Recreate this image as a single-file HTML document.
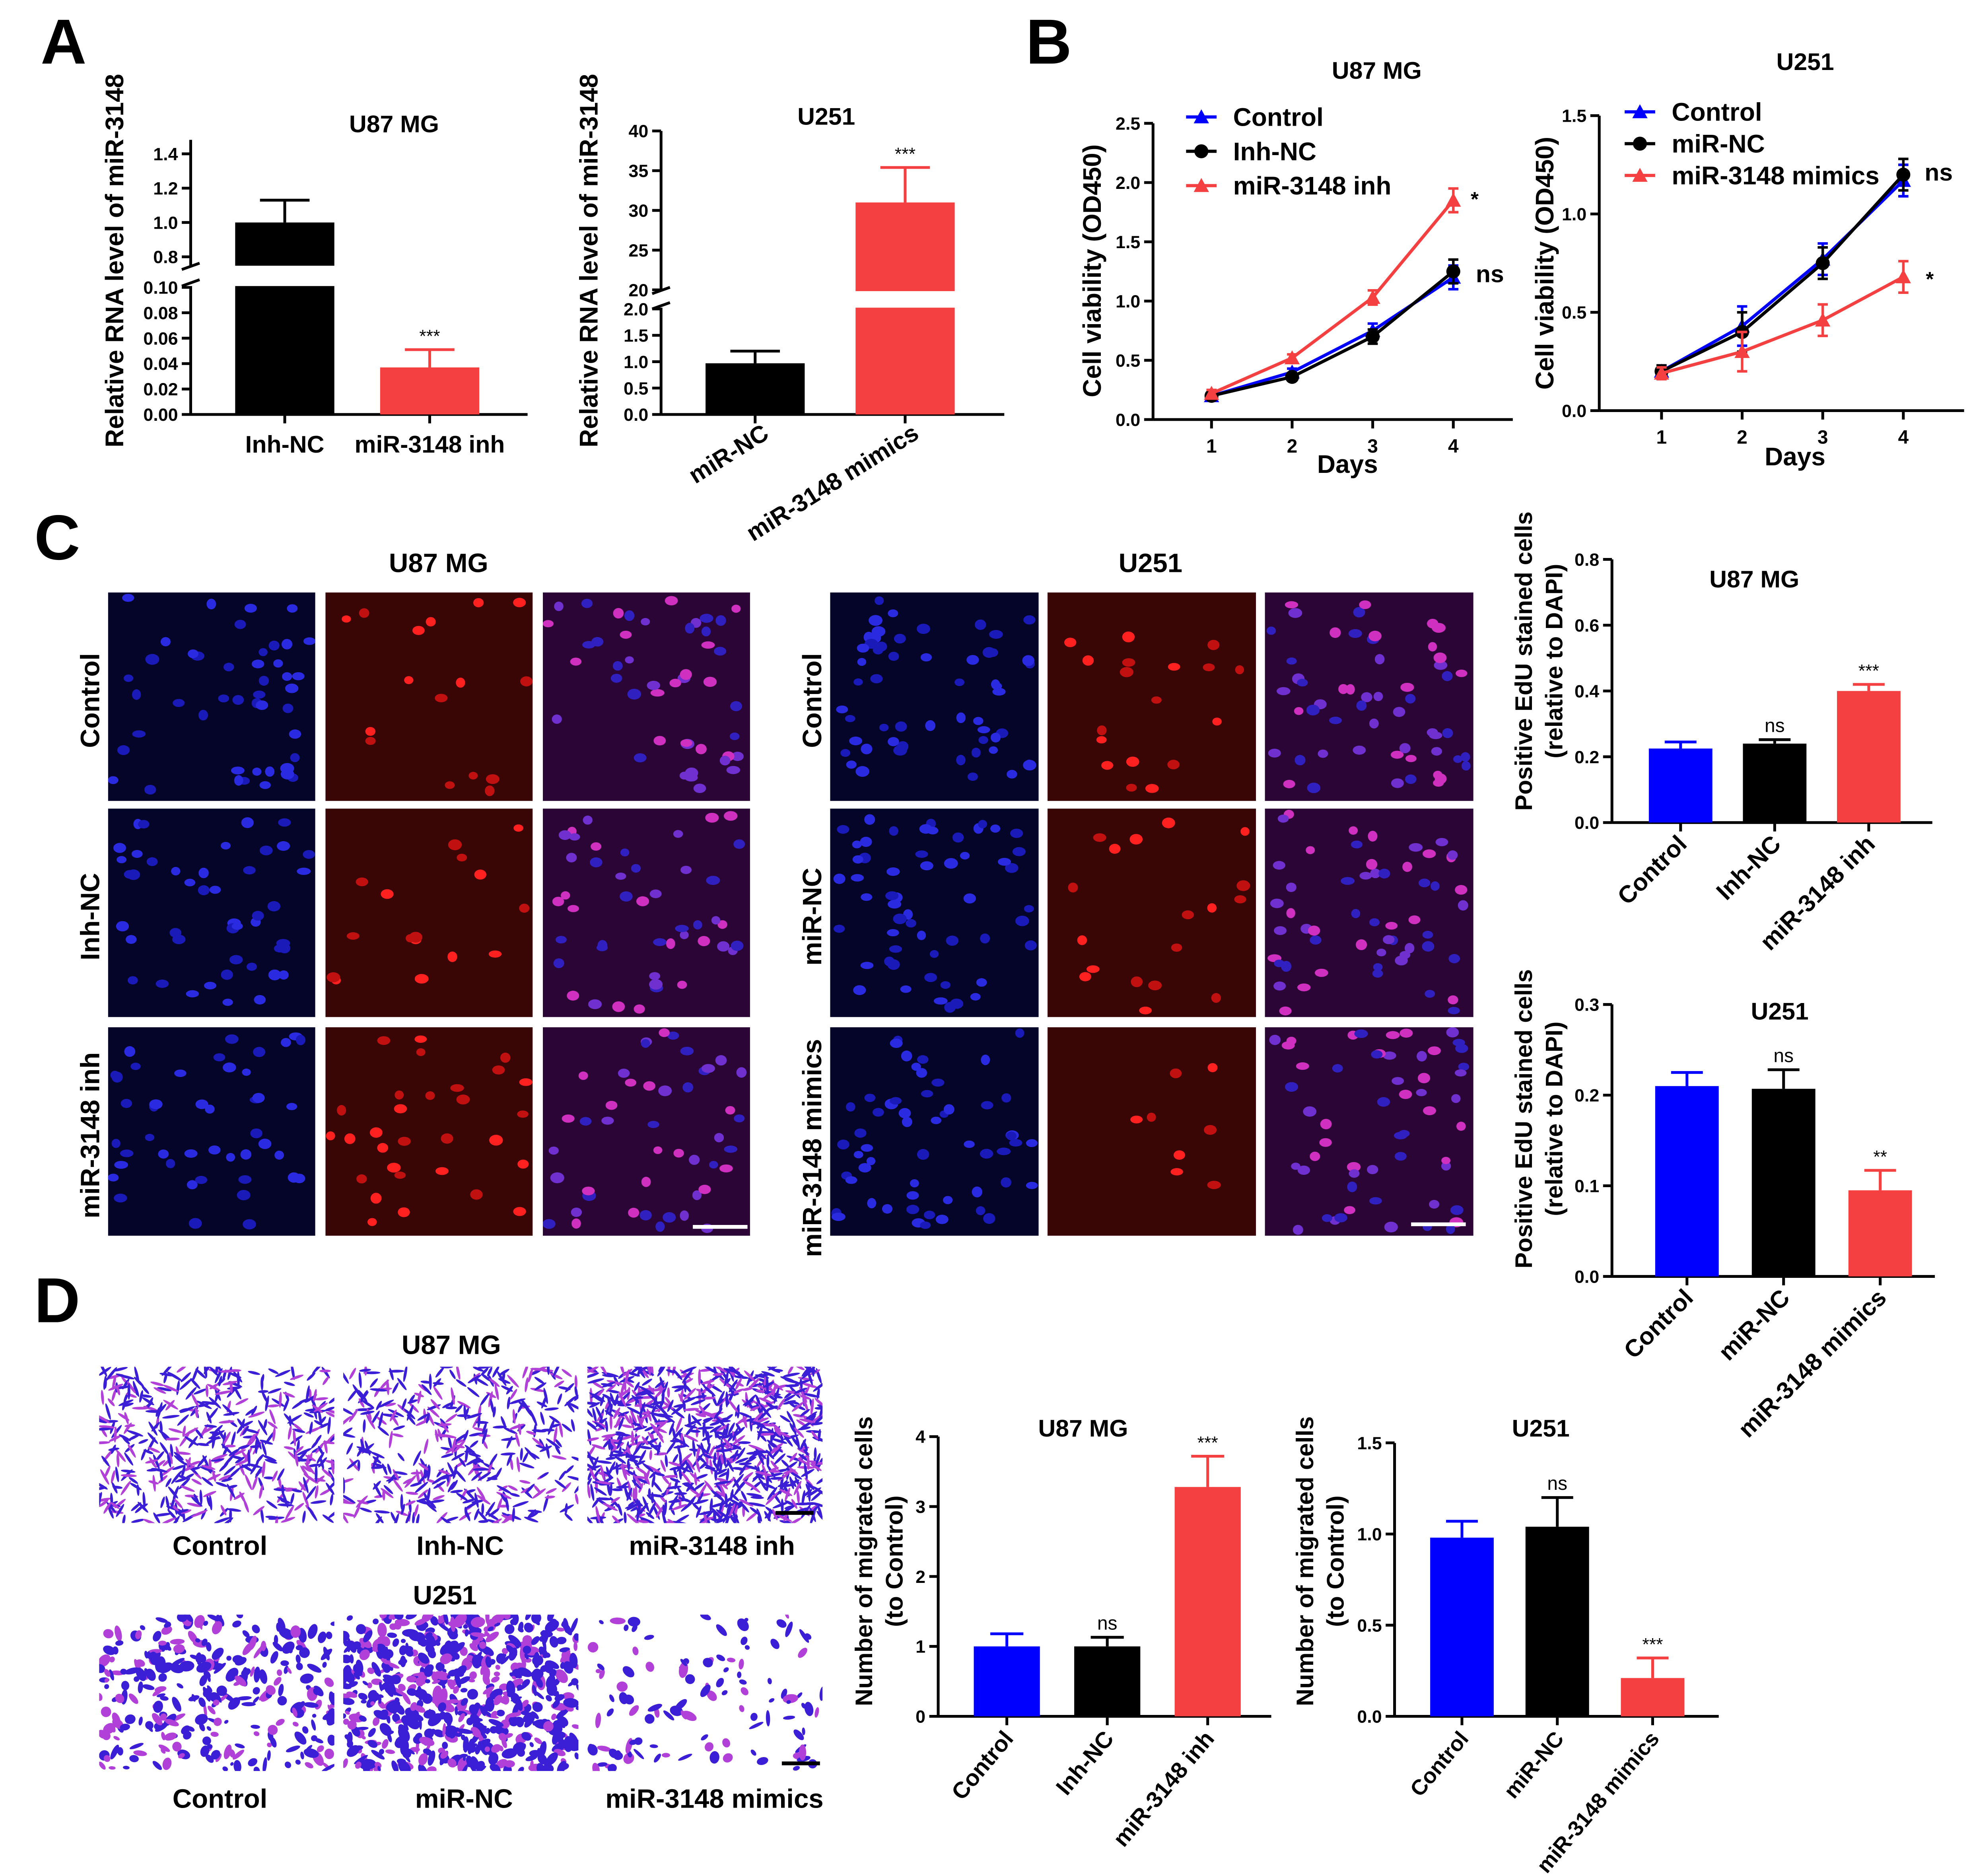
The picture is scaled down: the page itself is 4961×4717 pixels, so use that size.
<!DOCTYPE html>
<html><head><meta charset="utf-8"><style>
html,body{margin:0;padding:0;background:#fff;}
svg{display:block;font-family:"Liberation Sans",Arial,sans-serif;}
</style></head><body>
<svg id="fig" width="4961" height="4717" viewBox="0 0 1552 1475.6" preserveAspectRatio="none" xmlns="http://www.w3.org/2000/svg"></svg>
<script>
// ---------- DATA ----------
const a1Cats=['Inh-NC','miR-3148 inh'];
const a1Vals=[1.0,0.037];
const a1Errs=[1.13,0.051];
const a1Stars=['','***'];
const a2Cats=['miR-NC','miR-3148 mimics'];
const a2Vals=[0.97,31];
const a2Errs=[1.2,35.4];
const a2Stars=['','***'];
const bDays=[1,2,3,4];
const b1Control=[0.2,0.4,0.75,1.2];
const b1NC=[0.2,0.36,0.7,1.25];
const b1Inh=[0.22,0.52,1.03,1.85];
const b1Err=[0.03,0.03,0.06,0.1];
const b2Control=[0.2,0.43,0.77,1.17];
const b2NC=[0.2,0.4,0.75,1.2];
const b2Mim=[0.19,0.3,0.46,0.68];
const b2Err=[0.03,0.1,0.08,0.08];
const c1Cats=['Control','Inh-NC','miR-3148 inh'];
const c1Vals=[0.225,0.24,0.4];
const c1Errs=[0.245,0.252,0.42];
const c1Stars=['','ns','***'];
const c2Cats=['Control','miR-NC','miR-3148 mimics'];
const c2Vals=[0.21,0.207,0.095];
const c2Errs=[0.225,0.228,0.117];
const c2Stars=['','ns','**'];
const d1Cats=['Control','Inh-NC','miR-3148 inh'];
const d1Vals=[1.0,1.0,3.28];
const d1Errs=[1.18,1.13,3.72];
const d1Stars=['','ns','***'];
const d2Cats=['Control','miR-NC','miR-3148 mimics'];
const d2Vals=[0.98,1.04,0.21];
const d2Errs=[1.07,1.2,0.32];
const d2Stars=['','ns','***'];
const BLUE='#0000ff',BLACK='#000',RED='#f44040';

// ---------- HELPERS ----------
const NS='http://www.w3.org/2000/svg';
const svg=document.getElementById('fig');
const defs=document.createElementNS(NS,'defs');svg.appendChild(defs);
function el(tag,attrs,name,parent){
  const e=document.createElementNS(NS,tag);
  for(const k in attrs)e.setAttribute(k,attrs[k]);
  
  
  (parent||svg).appendChild(e);return e;
}
function txt(x,y,s,size,name,anchor,rot,weight){
  const t=el('text',{x:x,y:y,'font-size':size,'font-weight':weight||'bold','text-anchor':anchor||'middle',fill:'#000'},name);
  if(rot)t.setAttribute('transform','rotate('+rot+' '+x+' '+y+')');
  t.textContent=s;return t;
}
function ln(x1,y1,x2,y2,name,col,w){return el('line',{x1:x1,y1:y1,x2:x2,y2:y2,stroke:col||'#000','stroke-width':w||2.2},name);}
function yAxis(ax,top,bottom,ticks,labels,scale,name){
  ln(ax,top,ax,bottom,name+'-y-axis');
  ticks.forEach((v,i)=>{const y=scale(v);ln(ax-7,y,ax,y,name+'-y-tick');txt(ax-10,y+5,labels[i],14,name+'-y-tick-label','end');});
}
function barSeries(name,cats,vals,errs,stars,colors,scale,x0,step,bw,yZero,axisX,axisEnd,labelRot,labelDx,labelDy,lsize){
  ln(axisX,yZero,axisEnd,yZero,name+'-x-axis');
  cats.forEach((c,i)=>{
    const cx=x0+i*step,yv=scale(vals[i]),ye=scale(errs[i]);
    ln(cx,yv,cx,ye,name+'-error-bar',colors[i],2.2);
    ln(cx-bw*0.25,ye,cx+bw*0.25,ye,name+'-error-cap',colors[i],2.2);
    el('rect',{x:cx-bw/2,y:yv,width:bw,height:yZero-yv,fill:colors[i]},name+'-bar-'+i);
    if(stars[i])txt(cx,ye-6,stars[i],stars[i]=='ns'?15:14,name+'-significance','middle',0,'normal');
    ln(cx,yZero,cx,yZero+7,name+'-x-tick');
    if(labelRot)txt(cx+labelDx,yZero+labelDy,c,lsize||19,name+'-x-label','end',labelRot);
    else txt(cx,yZero+labelDy,c,lsize||19,name+'-x-label');
  });
}
function tri(x,y,c,name){el('polygon',{points:(x-6)+','+(y+5)+' '+(x+6)+','+(y+5)+' '+x+','+(y-6),fill:c},name);}
function lineChart(name,days,series,colors,shapes,errs,xs,scale,ax,top,yZero,axisEnd){
  ln(ax,yZero,axisEnd,yZero,name+'-x-axis');
  days.forEach((d,i)=>{ln(xs(d),yZero,xs(d),yZero+7,name+'-x-tick');txt(xs(d),yZero+26,String(d),15,name+'-x-tick-label');});
  series.forEach((s,k)=>{
    const pts=s.map((v,i)=>xs(days[i])+','+scale(v)).join(' ');
    el('polyline',{points:pts,fill:'none',stroke:colors[k],'stroke-width':2.5},name+'-line-'+k);
    s.forEach((v,i)=>{
      const x=xs(days[i]),y=scale(v),e=errs[k][i];
      ln(x,scale(v-e),x,scale(v+e),name+'-error-bar',colors[k],2);
      ln(x-4,scale(v+e),x+4,scale(v+e),name+'-error-cap',colors[k],2);
      ln(x-4,scale(v-e),x+4,scale(v-e),name+'-error-cap',colors[k],2);
      if(shapes[k]=='t')tri(x,y,colors[k],name+'-marker');else el('circle',{cx:x,cy:y,r:5.5,fill:colors[k]},name+'-marker');
    });
  });
}
function legend(x,y,labels,colors,shapes,dy,name){
  labels.forEach((l,i)=>{
    const yy=y+i*dy;ln(x-12,yy,x+12,yy,name+'-legend-line',colors[i],2.5);
    if(shapes[i]=='t')tri(x,yy,colors[i],name+'-legend-marker');else el('circle',{cx:x,cy:yy,r:5.5,fill:colors[i]},name+'-legend-marker');
    txt(x+25,yy+7,l,20,name+'-legend-label','start');
  });
}
let seed=7;function rnd(){seed=(seed*16807)%2147483647;return seed/2147483647;}
let clipN=0;
function clipG(x,y,w,h,name){
  const id='clip'+(clipN++);
  const cp=document.createElementNS(NS,'clipPath');cp.setAttribute('id',id);
  const r=document.createElementNS(NS,'rect');r.setAttribute('x',x);r.setAttribute('y',y);r.setAttribute('width',w);r.setAttribute('height',h);
  cp.appendChild(r);defs.appendChild(cp);
  return el('g',{'clip-path':'url(#'+id+')'},name);
}
function micro(x,y,w,h,bg,cols,n,name){
  const g=clipG(x,y,w,h,name);
  el('rect',{x:x,y:y,width:w,height:h,fill:bg},name+'-bg',g);
  for(let i=0;i<n;i++){el('ellipse',{cx:x+4+rnd()*(w-8),cy:y+4+rnd()*(h-8),rx:3.5+rnd()*2,ry:2.8+rnd()*1.5,fill:cols[i%cols.length]},name+'-nucleus',g);}
}
function transwell(x,y,w,h,dens,name,blobby){
  const g=clipG(x,y,w,h,name);
  el('rect',{x:x,y:y,width:w,height:h,fill:'#fff'},name+'-bg',g);
  for(let i=0;i<dens;i++){
    const cx=x+rnd()*w,cy=y+rnd()*h,a=rnd()*180,c=rnd()<0.65?'#3a1fd6':'#b040d8';
    if(blobby)el('ellipse',{cx:cx,cy:cy,rx:1.5+rnd()*5,ry:1.2+rnd()*3,fill:c,transform:'rotate('+a+' '+cx+' '+cy+')'},name+'-cell',g);
    else el('ellipse',{cx:cx,cy:cy,rx:4+rnd()*3,ry:1.1,fill:c,transform:'rotate('+a+' '+cx+' '+cy+')'},name+'-cell',g);
  }
}

// ---------- PANEL LETTERS ----------
txt(50,50,'A',50,'panel-label-a');txt(825,50,'B',50,'panel-label-b');
txt(45,440,'C',50,'panel-label-c');txt(45,1040,'D',50,'panel-label-d');

// ---------- A1 ----------
(function(){
  const s=v=>v<=0.1?326-v*1000:175-(v-1.0)*135;
  txt(310,104,'U87 MG',19,'a1-title');
  yAxis(150,110,326,[0,0.02,0.04,0.06,0.08,0.10,0.8,1.0,1.2,1.4],['0.00','0.02','0.04','0.06','0.08','0.10','0.8','1.0','1.2','1.4'],s,'a1');
  barSeries('a1',a1Cats,a1Vals,a1Errs,a1Stars,[BLACK,RED],s,224,114,78,326,150,415,0,0,30);
  el('rect',{x:143,y:209,width:130,height:16,fill:'#fff'},'a1-axis-break');
  ln(143,212,157,207,'a1-break-mark');ln(143,225,157,220,'a1-break-mark');
  txt(97,205,'Relative RNA level of miR-3148',20,'a1-y-title','middle',-90);
})();
// ---------- A2 ----------
(function(){
  const s=v=>v<=2?326-v*41.5:228-(v-20)*6.25;
  txt(650,98,'U251',19,'a2-title');
  yAxis(520,103,326,[0,0.5,1,1.5,2,20,25,30,35,40],['0.0','0.5','1.0','1.5','2.0','20','25','30','35','40'],s,'a2');
  barSeries('a2',a2Cats,a2Vals,a2Errs,a2Stars,[BLACK,RED],s,594,118,78,326,520,790,-32,12,18);
  el('rect',{x:513,y:229,width:245,height:13,fill:'#fff'},'a2-axis-break');
  ln(513,231,527,226,'a2-break-mark');ln(513,243,527,238,'a2-break-mark');
  txt(470,205,'Relative RNA level of miR-3148',20,'a2-y-title','middle',-90);
})();
// ---------- B1 ----------
(function(){
  const s=v=>330-v*93.2,xs=d=>953+(d-1)*63.4;
  txt(1083,62,'U87 MG',19,'b1-title');
  yAxis(907,97,330,[0,0.5,1,1.5,2,2.5],['0.0','0.5','1.0','1.5','2.0','2.5'],s,'b1');
  lineChart('b1',bDays,[b1Control,b1NC,b1Inh],[BLUE,BLACK,RED],['t','c','t'],[b1Err,b1Err,b1Err],xs,s,907,97,330,1190);
  legend(945,92,['Control','Inh-NC','miR-3148 inh'],[BLUE,BLACK,RED],['t','c','t'],27,'b1');
  txt(1160,162,'*',16,'b1-significance');txt(1172,222,'ns',19,'b1-significance');
  txt(1060,372,'Days',20,'b1-x-title');
  txt(866,213,'Cell viability (OD450)',20,'b1-y-title','middle',-90);
})();
// ---------- B2 ----------
(function(){
  const s=v=>323-v*154.7,xs=d=>1307+(d-1)*63.4;
  txt(1420,55,'U251',19,'b2-title');
  yAxis(1258,91,323,[0,0.5,1,1.5],['0.0','0.5','1.0','1.5'],s,'b2');
  lineChart('b2',bDays,[b2Control,b2NC,b2Mim],[BLUE,BLACK,RED],['t','c','t'],[b2Err,b2Err,b2Err],xs,s,1258,91,323,1545);
  legend(1290,88,['Control','miR-NC','miR-3148 mimics'],[BLUE,BLACK,RED],['t','c','t'],25,'b2');
  txt(1525,142,'ns',19,'b2-significance');txt(1518,225,'*',16,'b2-significance');
  txt(1412,366,'Days',20,'b2-x-title');
  txt(1222,207,'Cell viability (OD450)',20,'b2-y-title','middle',-90);
})();
// ---------- C images ----------
txt(345,450,'U87 MG',21,'c-u87-title');txt(905,450,'U251',21,'c-u251-title');
const rowsY=[466,636,808],rowH=[164,164,164];
const colsL=[85,256,427],colsR=[653,824,995];
const bgs=['#05052a','#3a0505','#2a0535'];
const cc=[['#2a2ae0','#1a1ab8'],['#ff2020','#c01010'],['#d030c0','#7030d0','#3020c0']];
['Control','Inh-NC','miR-3148 inh'].forEach((r,i)=>{
  colsL.forEach((x,j)=>micro(x,rowsY[i],163,rowH[i],bgs[j],cc[j],j==1?(i==2?30:16):45,'c-u87-image-'+i+'-'+j));
  txt(78,rowsY[i]+85,r,21,'c-u87-row-label','middle',-90);
});
['Control','miR-NC','miR-3148 mimics'].forEach((r,i)=>{
  colsR.forEach((x,j)=>micro(x,rowsY[i],164,rowH[i],bgs[j],cc[j],j==1?(i==2?8:18):55,'c-u251-image-'+i+'-'+j));
  txt(646,rowsY[i]+85+(i==2?10:0),r,21,'c-u251-row-label','middle',-90);
});
ln(545,965,588,965,'c-u87-scale-bar','#fff',3);ln(1110,963,1153,963,'c-u251-scale-bar','#fff',3);
// ---------- C1 ----------
(function(){
  const s=v=>647-v*258.75;
  txt(1380,462,'U87 MG',19,'c1-title');
  yAxis(1268,440,647,[0,0.2,0.4,0.6,0.8],['0.0','0.2','0.4','0.6','0.8'],s,'c1');
  barSeries('c1',c1Cats,c1Vals,c1Errs,c1Stars,[BLUE,BLACK,RED],s,1322,74,50,647,1268,1520,-45,6,18);
  txt(1205,520,'Positive EdU stained cells',19,'c1-y-title','middle',-90);
  txt(1229,520,'(relative to DAPI)',19,'c1-y-title','middle',-90);
})();
// ---------- C2 ----------
(function(){
  const s=v=>1004-v*713;
  txt(1400,802,'U251',19,'c2-title');
  yAxis(1268,790,1004,[0,0.1,0.2,0.3],['0.0','0.1','0.2','0.3'],s,'c2');
  barSeries('c2',c2Cats,c2Vals,c2Errs,c2Stars,[BLUE,BLACK,RED],s,1327,76,50,1004,1268,1522,-45,6,18);
  txt(1205,880,'Positive EdU stained cells',19,'c2-y-title','middle',-90);
  txt(1229,880,'(relative to DAPI)',19,'c2-y-title','middle',-90);
})();
// ---------- D images ----------
txt(355,1065,'U87 MG',21,'d-u87-title');txt(350,1262,'U251',21,'d-u251-title');
[[78,500],[270,420],[462,900]].forEach((p,j)=>transwell(p[0],1075,185,123,p[1],'d-u87-image-'+j,false));
[[78,300],[270,650],[462,110]].forEach((p,j)=>transwell(p[0],1270,185,123,p[1],'d-u251-image-'+j,true));
['Control','Inh-NC','miR-3148 inh'].forEach((l,i)=>txt([173,362,560][i],1223,l,21,'d-u87-label'));
['Control','miR-NC','miR-3148 mimics'].forEach((l,i)=>txt([173,365,562][i],1422,l,21,'d-u251-label'));
ln(610,1190,640,1190,'d-u87-scale-bar','#000',3);ln(615,1387,645,1387,'d-u251-scale-bar','#000',3);
// ---------- D1 ----------
(function(){
  const s=v=>1350-v*55;
  txt(852,1130,'U87 MG',19,'d1-title');
  yAxis(738,1130,1350,[0,1,2,3,4],['0','1','2','3','4'],s,'d1');
  barSeries('d1',d1Cats,d1Vals,d1Errs,d1Stars,[BLUE,BLACK,RED],s,792,79,52,1350,738,1000,-50,6,18,18);
  txt(686,1228,'Number of migrated cells',19,'d1-y-title','middle',-90);
  txt(710,1228,'(to Control)',19,'d1-y-title','middle',-90);
})();
// ---------- D2 ----------
(function(){
  const s=v=>1350-v*143.4;
  txt(1212,1130,'U251',19,'d2-title');
  yAxis(1097,1135,1350,[0,0.5,1,1.5],['0.0','0.5','1.0','1.5'],s,'d2');
  barSeries('d2',d2Cats,d2Vals,d2Errs,d2Stars,[BLUE,BLACK,RED],s,1150,75,50,1350,1097,1352,-50,6,18,17);
  txt(1033,1228,'Number of migrated cells',19,'d2-y-title','middle',-90);
  txt(1057,1228,'(to Control)',19,'d2-y-title','middle',-90);
})();
</script>
</body></html>
